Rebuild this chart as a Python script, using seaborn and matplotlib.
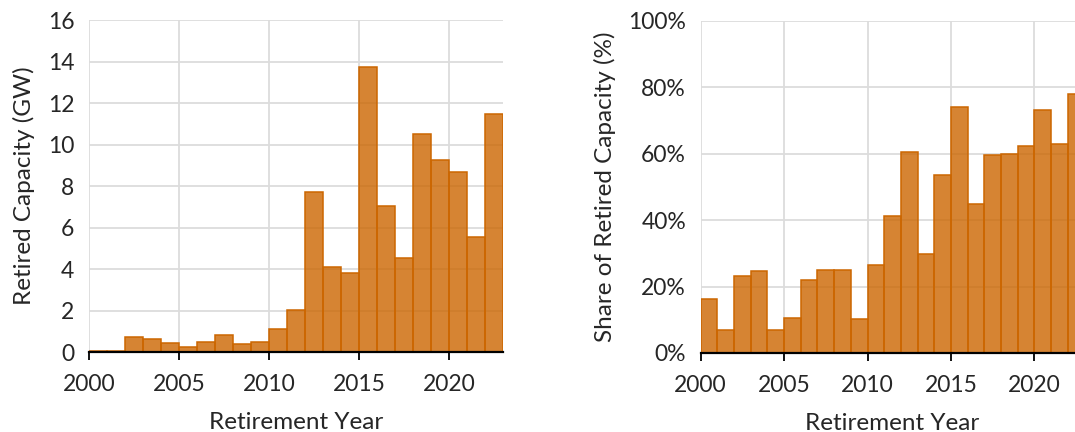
import numpy as np
import pandas as pd
import matplotlib
matplotlib.use("Agg")
import matplotlib.pyplot as plt
import seaborn as sns
from matplotlib.ticker import PercentFormatter

# Datos
years = list(range(2000, 2023))
retired_gw = [0.05, 0.07, 0.72, 0.65, 0.43, 0.23, 0.50, 0.80, 0.39, 0.47,
              1.10, 2.03, 7.70, 4.10, 3.80, 13.74, 7.02, 4.51, 10.53, 9.24,
              8.66, 5.57, 11.48]
share_pct = [16.2, 7.0, 23.1, 24.7, 7.0, 10.6, 22.1, 25.1, 24.9, 10.3,
             26.5, 41.1, 60.4, 29.7, 53.6, 74.0, 44.7, 59.7, 59.9, 62.4,
             73.0, 62.9, 78.0]
year_ticks = [2000, 2005, 2010, 2015, 2020]

# centro de cada año para que cada barra ocupe [año, año+1]
df = pd.DataFrame({"year": np.array(years) + 0.5, "gw": retired_gw,
                   "share": share_pct})

sns.set_style("white")
plt.rcParams["font.family"] = ["Lato", "DejaVu Sans"]

fill = (0.8, 0.4, 0.0, 0.8)
edge = "#CC6600"
grid = "#DCDCDC"

fig = plt.figure(figsize=(10.75, 4.32), dpi=100)
ax1 = fig.add_axes([0.0828, 0.185, 0.385, 0.7685])
ax2 = fig.add_axes([0.6518, 0.183, 0.357, 0.769])


def draw(ax, col, ylim, yticks):
    sns.histplot(data=df, x="year", weights=col, binwidth=1,
                 binrange=(2000, 2023), ax=ax)
    for p in ax.patches:
        p.set_alpha(None)
        p.set_facecolor(fill)
        p.set_edgecolor(edge)
        p.set_linewidth(1.1)
        p.set_zorder(3)
    ax.set_xlim(2000, 2023)
    ax.set_ylim(*ylim)
    ax.set_xticks(year_ticks)
    ax.set_yticks(yticks)
    ax.grid(True, color=grid, linewidth=1.3, zorder=0)
    ax.set_axisbelow(True)
    for s in ["top", "right", "left"]:
        ax.spines[s].set_visible(False)
    ax.spines["bottom"].set_color("black")
    ax.spines["bottom"].set_linewidth(1.6)
    ax.spines["bottom"].set_zorder(5)
    ax.tick_params(axis="x", bottom=True, length=6, width=1.3, color="black",
                   labelsize=16.5, pad=10)
    ax.tick_params(axis="y", left=False, labelsize=16.5, pad=7)
    ax.set_xlabel("Retirement Year", fontsize=17.5, labelpad=12)


draw(ax1, "gw", (0, 16), range(0, 17, 2))
ax1.set_ylabel("Retired Capacity (GW)", fontsize=17.5, labelpad=9)

draw(ax2, "share", (0, 100), range(0, 101, 20))
ax2.yaxis.set_major_formatter(PercentFormatter(decimals=0))
ax2.set_ylabel("Share of Retired Capacity (%)", fontsize=17.5, labelpad=9)

fig.savefig("out.png", dpi=100)
